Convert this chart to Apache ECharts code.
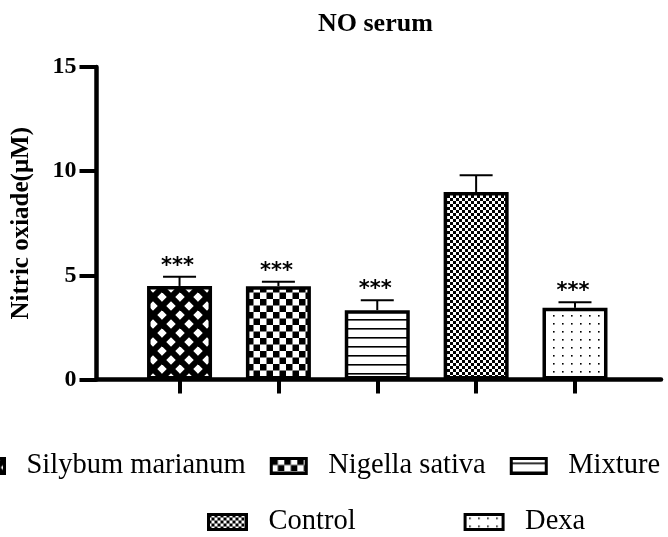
<!DOCTYPE html>
<html>
<head>
<meta charset="utf-8">
<script src="https://cdn.jsdelivr.net/npm/echarts@6/dist/echarts.min.js"></script>
<style>html,body{margin:0;padding:0;background:#fff;}#c{width:668px;height:537px;}</style>
</head>
<body>
<div id="c"></div>
<script>
const categories = ['Silybum marianum', 'Nigella sativa', 'Mixture', 'Control', 'Dexa'];
const means = [4.49, 4.48, 3.33, 9.0, 3.44];
const errors = [0.44, 0.21, 0.48, 0.80, 0.27];
const stars = ['***', '***', '***', '', '***'];
const yTicks = [0, 5, 10, 15];
const xPositions = [0, 1, 2, 3, 4];

function makePattern(w, h, draw) {
  const c = document.createElement('canvas');
  c.width = w; c.height = h;
  const ctx = c.getContext('2d');
  ctx.fillStyle = '#fff';
  ctx.fillRect(0, 0, w, h);
  ctx.fillStyle = '#000';
  ctx.strokeStyle = '#000';
  draw(ctx, w, h);
  return { image: c, repeat: 'repeat' };
}

const patterns = [
  makePattern(18, 18, (ctx, w) => {
    ctx.lineWidth = 6;
    for (let k = -1; k <= 1; k++) {
      ctx.beginPath(); ctx.moveTo(w * k, 0); ctx.lineTo(w * k + w, w); ctx.stroke();
    }
    for (let k = 0; k <= 2; k++) {
      ctx.beginPath(); ctx.moveTo(w * k, 0); ctx.lineTo(w * k - w, w); ctx.stroke();
    }
  }),
  makePattern(13, 13, (ctx) => {
    ctx.fillRect(0, 0, 6.5, 6.5);
    ctx.fillRect(6.5, 6.5, 6.5, 6.5);
  }),
  makePattern(4, 9, (ctx, w) => {
    ctx.fillRect(0, 4, w, 1.6);
  }),
  makePattern(6, 6, (ctx) => {
    ctx.fillRect(0, 0, 3, 3);
    ctx.fillRect(3, 3, 3, 3);
  }),
  makePattern(9, 8, (ctx) => {
    ctx.fillRect(4, 3, 1.6, 1.6);
  })
];

const chart = echarts.init(document.getElementById('c'), null, { renderer: 'canvas' });

const barSeries = categories.map((name, i) => ({
  name: name,
  type: 'bar',
  barWidth: 65,
  barGap: '-100%',
  data: [[xPositions[i], means[i]]],
  itemStyle: { color: patterns[i], borderColor: '#000', borderWidth: 3.5 },
  z: 2
}));

const legendText = { fontFamily: 'Liberation Serif', fontSize: 28.5, color: '#000', padding: [0, 0, 0, 17], lineHeight: 30 };

const option = {
  animation: false,
  backgroundColor: '#fff',
  title: {
    text: 'NO serum',
    left: 318, top: 11, padding: 0,
    textStyle: { fontFamily: 'Liberation Serif', fontWeight: 'bold', fontSize: 26, color: '#000' }
  },
  grid: { left: 96.5, right: 7, top: 67, bottom: 157.5, containLabel: false },
  legend: [
    {
      data: categories.slice(0, 3),
      left: -32, top: 451, width: 760, padding: 0, orient: 'horizontal',
      icon: 'rect', itemWidth: 35, itemHeight: 15, itemGap: 24,
      itemStyle: { borderColor: '#000', borderWidth: 3 },
      textStyle: legendText, selectedMode: false
    },
    {
      data: categories.slice(3),
      left: 207, top: 507, width: 500, padding: 0, orient: 'horizontal',
      icon: 'rect', itemWidth: 38, itemHeight: 15, itemGap: 108,
      itemStyle: { borderColor: '#000', borderWidth: 3 },
      textStyle: legendText, selectedMode: false
    }
  ],
  xAxis: {
    type: 'value',
    min: -0.84, max: 4.87,
    splitLine: { show: false },
    axisLine: { show: true, onZero: false, lineStyle: { color: '#000', width: 4.5, cap: 'round' } },
    axisTick: { show: true, customValues: xPositions, inside: false, length: 14, lineStyle: { color: '#000', width: 4 } },
    axisLabel: { show: false }
  },
  yAxis: {
    type: 'value',
    min: 0, max: 15, interval: 5,
    name: 'Nitric oxiade(\u03bcM)',
    nameLocation: 'middle', nameRotate: 90, nameGap: 62,
    nameTextStyle: { fontFamily: 'Liberation Serif', fontWeight: 'bold', fontSize: 25, color: '#000' },
    splitLine: { show: false },
    axisLine: { show: true, onZero: false, lineStyle: { color: '#000', width: 4.5 } },
    axisTick: { show: true, customValues: yTicks, length: 17, lineStyle: { color: '#000', width: 4 } },
    axisLabel: { customValues: yTicks, margin: 20, fontFamily: 'Liberation Serif', fontWeight: 'bold', fontSize: 24, color: '#000' }
  },
  series: barSeries.concat([{
    type: 'custom',
    name: 'errors',
    z: 5,
    data: means.map((m, i) => [xPositions[i], m, errors[i]]),
    renderItem: function (params, api) {
      const x = api.value(0), m = api.value(1), e = api.value(2);
      const p0 = api.coord([x, m]);
      const p1 = api.coord([x, m + e]);
      const children = [
        { type: 'line', shape: { x1: p0[0], y1: p0[1], x2: p0[0], y2: p1[1] }, style: { stroke: '#000', lineWidth: 2 } },
        { type: 'line', shape: { x1: p0[0] - 16.5, y1: p1[1], x2: p0[0] + 16.5, y2: p1[1] }, style: { stroke: '#000', lineWidth: 2 } }
      ];
      const s = stars[params.dataIndex];
      if (s) {
        children.push({ type: 'text', style: { text: s, x: p0[0] - 2, y: p1[1] - 10.5, align: 'center', verticalAlign: 'middle', fill: '#000', fontFamily: 'DejaVu Sans', fontWeight: 'bold', fontSize: 21 } });
      }
      return { type: 'group', children: children };
    }
  }])
};
chart.setOption(option);
</script>
</body>
</html>
